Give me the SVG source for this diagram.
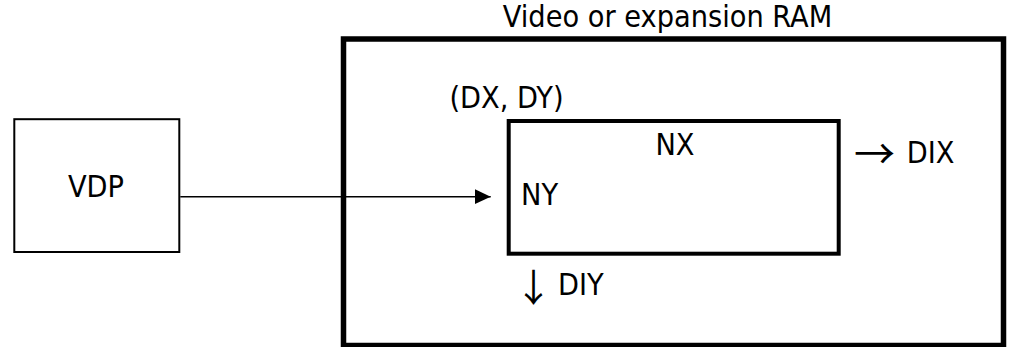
<svg xmlns="http://www.w3.org/2000/svg" width="1010" height="347" viewBox="0 0 1010 347">
<style>
text{font-family:"DejaVu Sans","Liberation Sans",sans-serif;font-stretch:condensed;font-size:30.3px;fill:#000}
.arr{font-family:"Noto Sans CJK JP","DejaVu Sans",sans-serif;font-stretch:normal}
.box{fill:none;stroke:#000}
</style>
<defs>
<marker id="ah" markerUnits="userSpaceOnUse" markerWidth="16" markerHeight="16" refX="16" refY="8" orient="auto" viewBox="0 0 16 16">
<path d="M0,0.5 L16,8 L0,15.5 Z" fill="#000"/>
</marker>
</defs>
<rect width="1010" height="347" fill="#fff"/>
<g id="ram">
<rect class="box" x="343.5" y="39" width="660" height="306.5" stroke-width="5.5"/>
<text x="667.5" y="27" text-anchor="middle">Video or expansion RAM</text>
</g>
<g id="vdp">
<rect class="box" x="14.3" y="119.2" width="165" height="132.8" stroke-width="2"/>
<text x="96" y="197" text-anchor="middle">VDP</text>
</g>
<g id="block">
<rect class="box" x="508.7" y="121" width="330" height="132.7" stroke-width="4"/>
<text x="506.5" y="108" text-anchor="middle">(DX, DY)</text>
<text x="675" y="155" text-anchor="middle">NX</text>
<text x="521" y="205">NY</text>
<text x="854" y="169"><tspan class="arr" font-size="41" letter-spacing="3">→</tspan><tspan y="163.3"> DIX</tspan></text>
<text x="514.4" y="300.5"><tspan class="arr" font-size="38" letter-spacing="-3">↓</tspan><tspan y="295.3"> DIY</tspan></text>
</g>
<g id="connectors">
<line x1="180.3" y1="196.7" x2="490.7" y2="196.7" stroke="#000" stroke-width="1.5" marker-end="url(#ah)"/>
</g>
</svg>
